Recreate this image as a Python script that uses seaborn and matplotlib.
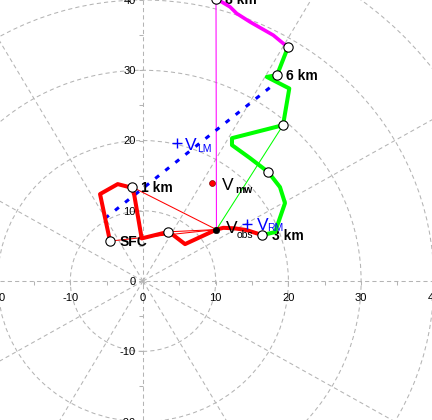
#import libraries
import numpy as np
import matplotlib
matplotlib.use('Agg')
import matplotlib.pyplot as plt
from matplotlib.patches import Circle
import seaborn as sns

#hodograph wind components (kt)
red_u = [-4.54, -5.91, -3.48, -2.02, -1.55, -1.20, -0.18, 3.48, 4.17, 5.78, 10.1, 11.05, 12.65, 14.26, 16.41]
red_v = [5.69, 12.38, 13.80, 13.41, 13.41, 12.23, 6.07, 7.01, 6.54, 5.26, 7.33, 7.58, 7.50, 7.25, 6.54]
green_u = [16.41, 18.16, 19.53, 18.84, 17.24, 14.72, 12.24, 12.24, 19.26, 20.12, 17.02, 18.43, 19.94]
green_v = [6.54, 6.97, 11.10, 13.37, 15.50, 17.50, 19.35, 20.34, 22.19, 27.41, 29.06, 29.30, 33.29]
mag_u = [19.94, 19.30, 17.92, 14.72, 12.89, 11.97, 10.83, 10.04]
mag_v = [33.29, 33.81, 34.99, 36.88, 38.08, 39.02, 39.73, 40.1]

#height markers
lev_u = [-4.54, 3.48, -1.55, 16.41, 17.24, 19.26, 18.43, 19.94, 10.04]
lev_v = [5.69, 7.01, 13.41, 6.54, 15.50, 22.19, 29.30, 33.29, 40.1]
lev_names = ['SFC', '', '1 km', '3 km', '', '', '6 km', '', '8 km']

#storm motion points
vobs = (10.1, 7.33)
vmw = (9.45, 13.9)
vlm = (4.63, 19.59)
vrm = (14.3, 8.15)
blue_u = [-5.23, 18.16]
blue_v = [8.92, 28.12]

#thin lines from observed motion to levels
thin_u = [-4.54, 3.48, -1.55, 19.26, 10.04]
thin_v = [5.69, 7.01, 13.41, 22.19, 40.1]
thin_c = ['#ff0000', '#ff0000', '#ff0000', '#00ff00', '#ff00ff']

tick_vals = [-20, -10, 0, 10, 20, 30, 40]
rings = [10, 20, 30, 40, 50, 60]

sns.set_style('white')
plt.rcParams['font.family'] = ['Liberation Sans', 'DejaVu Sans']

fig = plt.figure(figsize=(4.32, 4.2), dpi=100)
ax = fig.add_axes([0, 0, 1, 1])
ax.set_xlim(-19.67, 39.75)
ax.set_ylim(-19.77, 40.0)
ax.axis('off')

#polar grid
gcol = '#b4b4b4'
gls = (0, (4, 3))
for r in rings:
    ax.add_patch(Circle((0, 0), r, fill=False, ec=gcol, lw=0.75, ls=gls, zorder=1))
for a in [30, 60, 120, 150, 210, 240, 300, 330]:
    t = np.deg2rad(a)
    ax.plot([0, 90 * np.cos(t)], [0, 90 * np.sin(t)], color=gcol, lw=0.75, ls=gls, zorder=1)
ax.axhline(0, color=gcol, lw=0.75, ls=gls, zorder=1)
ax.axvline(0, color=gcol, lw=0.75, ls=gls, zorder=1)
minor = np.arange(-20, 45, 5)
ax.plot(minor, np.zeros_like(minor), ls='none', marker=3, ms=3, mew=0.75, color=gcol, zorder=1)
ax.plot(np.zeros_like(minor), minor, ls='none', marker=0, ms=3, mew=0.75, color=gcol, zorder=1)

for v in tick_vals:
    ax.annotate(str(v), (v, 0), xytext=(0, -8.4), textcoords='offset points',
                ha='center', va='top', fontsize=8, color='black', annotation_clip=False)
    ax.annotate(str(v), (0, v), xytext=(-5.4, -2.8), textcoords='offset points',
                ha='right', va='baseline', fontsize=8, color='black', annotation_clip=False)

#thin lines
for tu, tv, c in zip(thin_u, thin_v, thin_c):
    sns.lineplot(x=[vobs[0], tu], y=[vobs[1], tv], sort=False, estimator=None,
                 color=c, lw=0.75, ax=ax, zorder=2)

#blue dotted line
sns.lineplot(x=blue_u, y=blue_v, sort=False, estimator=None, color='#0000ff',
             lw=2.2, linestyle=(0, (1.6, 2.6)), ax=ax, zorder=3)

#hodograph
sns.lineplot(x=red_u, y=red_v, sort=False, estimator=None, color='#ff0000', lw=2.9, ax=ax, zorder=4)
sns.lineplot(x=green_u, y=green_v, sort=False, estimator=None, color='#00ff00', lw=2.9, ax=ax, zorder=4)
sns.lineplot(x=mag_u, y=mag_v, sort=False, estimator=None, color='#ff00ff', lw=2.6, ax=ax, zorder=4)

sns.scatterplot(x=lev_u, y=lev_v, s=45, color='white', edgecolor='black', linewidth=0.8,
                ax=ax, zorder=6, clip_on=False)
for u, v, name in zip(lev_u, lev_v, lev_names):
    if name:
        ax.annotate(name, (u, v), xytext=(6.8, -3.6), textcoords='offset points',
                    ha='left', va='baseline', fontsize=10, fontweight='bold', color='black',
                    annotation_clip=False)

#storm motions
sns.scatterplot(x=[vobs[0]], y=[vobs[1]], s=22, color='black', edgecolor='black', ax=ax, zorder=7)
sns.scatterplot(x=[vmw[0]], y=[vmw[1]], s=18, color='#ff0000', edgecolor='#800000', linewidth=0.5, ax=ax, zorder=7)
sns.scatterplot(x=[vlm[0], vrm[0]], y=[vlm[1], vrm[1]], marker='+', s=45, color='#0000ff', linewidth=1, ax=ax, zorder=7)

def vlabel(pt, sub, col, dv, ds, bold=False):
    ax.annotate('V', pt, xytext=(dv[0], dv[1]), textcoords='offset points',
                ha='left', va='baseline', fontsize=12.5, color=col, zorder=8)
    ax.annotate(sub, pt, xytext=(ds[0], ds[1]), textcoords='offset points',
                ha='left', va='baseline', fontsize=7.5, color=col,
                fontweight='bold' if bold else 'normal', zorder=8)

vlabel(vobs, 'obs', 'black', (6.5, -2.5), (14.4, -6.1))
vlabel(vmw, 'mw', 'black', (7.2, -4.8), (16.8, -6.6), bold=True)
vlabel(vlm, 'LM', '#0000ff', (6.0, -4.8), (14.4, -6.3))
vlabel(vrm, 'RM', '#0000ff', (7.2, -4.3), (14.4, -5.5))

fig.savefig('out.png', dpi=100)
